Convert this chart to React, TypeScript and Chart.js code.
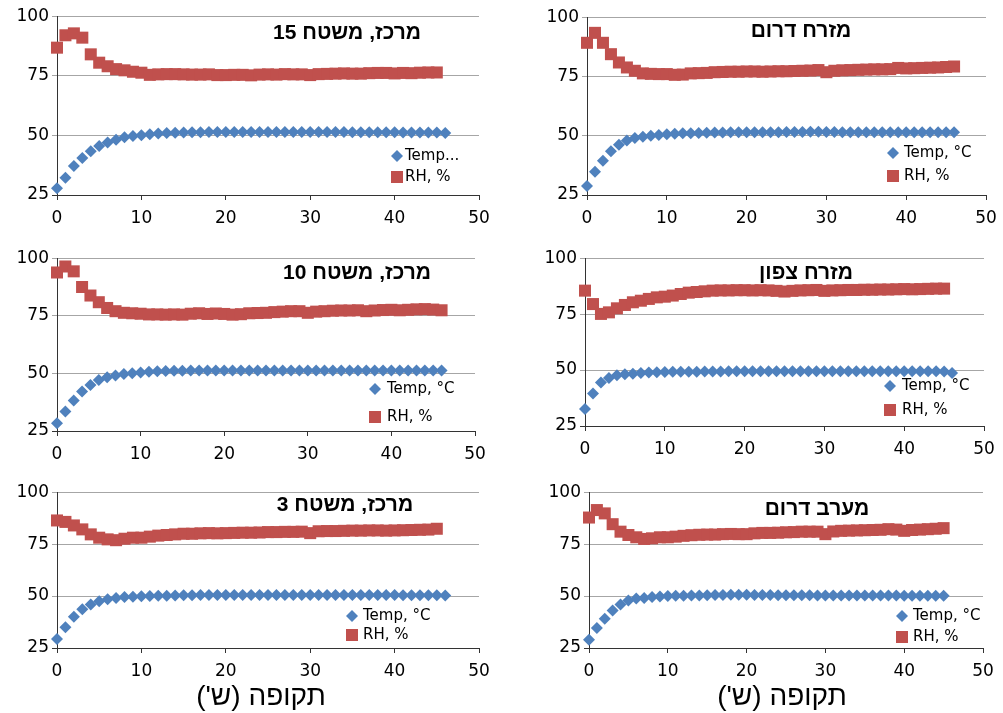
import React, { useEffect, useRef } from 'react';
import { Chart, registerables } from 'chart.js';

Chart.register(...registerables);

// ---------------- DATA ----------------
const hours = [0, 1, 2, 3, 4, 5, 6, 7, 8, 9, 10, 11, 12, 13, 14, 15, 16, 17, 18, 19, 20, 21, 22, 23, 24, 25, 26, 27, 28, 29, 30, 31, 32, 33, 34, 35, 36, 37, 38, 39, 40, 41, 42, 43, 44, 45, 46];
const xTickValues = [0, 10, 20, 30, 40, 50];
const yTickValues = [25, 50, 75, 100];

const tempName = 'Temp, °C';
const tempNameShort = 'Temp...';
const rhName = 'RH, %';
const xAxisTitle = "תקופה (ש')";

const titles = ['מרכז, משטח 15', 'מזרח דרום', 'מרכז, משטח 10', 'מזרח צפון', 'מרכז, משטח 3', 'מערב דרום'];

// מרכז, משטח 15
const temp15 = [27.8, 32.2, 37.2, 40.5, 43.3, 45.6, 47.0, 48.2, 49.2, 49.7, 50.1, 50.5, 50.8, 51.0, 51.1, 51.2, 51.3, 51.3, 51.4, 51.4, 51.4, 51.4, 51.4, 51.4, 51.4, 51.4, 51.4, 51.4, 51.4, 51.4, 51.4, 51.4, 51.4, 51.4, 51.4, 51.3, 51.3, 51.3, 51.3, 51.3, 51.3, 51.2, 51.2, 51.2, 51.2, 51.2, 51.0];
const rh15 = [86.8, 92.0, 92.8, 91.0, 84.0, 80.5, 79.0, 77.8, 77.3, 76.7, 76.3, 75.4, 75.6, 75.7, 75.7, 75.6, 75.5, 75.5, 75.6, 75.3, 75.3, 75.4, 75.4, 75.2, 75.5, 75.6, 75.5, 75.7, 75.6, 75.6, 75.3, 75.7, 75.8, 75.9, 76.0, 75.9, 75.9, 76.1, 76.2, 76.2, 76.0, 76.2, 76.1, 76.3, 76.4, 76.4];

// מזרח דרום
const tempSE = [28.8, 34.8, 39.4, 43.5, 46.2, 48.0, 49.0, 49.6, 50.0, 50.3, 50.6, 50.8, 51.0, 51.1, 51.2, 51.3, 51.4, 51.4, 51.5, 51.5, 51.5, 51.5, 51.5, 51.5, 51.5, 51.6, 51.6, 51.6, 51.7, 51.7, 51.6, 51.6, 51.5, 51.5, 51.5, 51.5, 51.5, 51.5, 51.5, 51.5, 51.5, 51.5, 51.5, 51.5, 51.5, 51.5, 51.5];
const rhSE = [89.2, 93.4, 89.2, 84.4, 80.9, 78.8, 77.4, 76.3, 76.1, 76.0, 76.0, 75.7, 75.8, 76.3, 76.4, 76.5, 76.8, 76.9, 77.0, 77.0, 77.1, 77.1, 77.0, 77.1, 77.2, 77.2, 77.3, 77.4, 77.5, 77.7, 76.8, 77.4, 77.6, 77.7, 77.8, 77.9, 78.0, 78.0, 78.1, 78.6, 78.4, 78.5, 78.6, 78.7, 78.8, 79.0, 79.2];

// מרכז, משטח 10
const temp10 = [28.4, 33.5, 38.2, 42.1, 45.0, 47.1, 48.3, 49.1, 49.7, 50.1, 50.4, 50.7, 50.9, 51.0, 51.1, 51.2, 51.3, 51.3, 51.3, 51.3, 51.3, 51.3, 51.3, 51.3, 51.3, 51.3, 51.3, 51.3, 51.3, 51.3, 51.3, 51.3, 51.3, 51.3, 51.3, 51.3, 51.3, 51.3, 51.3, 51.3, 51.3, 51.3, 51.3, 51.3, 51.3, 51.3, 51.3];
const rh10 = [93.8, 96.4, 94.3, 87.5, 83.8, 80.9, 78.4, 77.0, 76.3, 76.1, 75.9, 75.6, 75.6, 75.5, 75.6, 75.5, 75.9, 76.1, 75.8, 76.0, 75.8, 75.5, 75.7, 76.1, 76.2, 76.3, 76.6, 76.8, 77.0, 77.0, 76.3, 76.8, 77.0, 77.2, 77.3, 77.3, 77.4, 77.0, 77.3, 77.5, 77.6, 77.4, 77.6, 77.8, 77.9, 77.7, 77.4];

// מזרח צפון
const tempNE = [32.6, 39.5, 44.4, 46.5, 47.7, 48.1, 48.4, 48.7, 48.9, 49.0, 49.1, 49.2, 49.2, 49.3, 49.3, 49.4, 49.4, 49.4, 49.5, 49.5, 49.5, 49.5, 49.5, 49.5, 49.5, 49.5, 49.5, 49.5, 49.5, 49.5, 49.5, 49.5, 49.5, 49.5, 49.5, 49.5, 49.5, 49.5, 49.5, 49.5, 49.5, 49.5, 49.5, 49.5, 49.5, 49.4, 48.7];
const rhNE = [85.5, 79.5, 75.1, 75.8, 77.6, 79.1, 80.3, 81.0, 81.8, 82.5, 82.8, 83.3, 84.0, 84.6, 84.9, 85.2, 85.5, 85.6, 85.6, 85.7, 85.7, 85.6, 85.7, 85.6, 85.4, 85.1, 85.4, 85.6, 85.7, 85.8, 85.4, 85.6, 85.7, 85.8, 85.8, 85.9, 85.9, 86.0, 86.0, 86.1, 86.2, 86.1, 86.2, 86.3, 86.4, 86.4];

// מרכז, משטח 3
const temp3 = [29.3, 35.0, 40.1, 43.6, 45.9, 47.5, 48.5, 49.1, 49.6, 49.7, 49.9, 50.0, 50.1, 50.2, 50.3, 50.4, 50.4, 50.5, 50.5, 50.5, 50.5, 50.5, 50.5, 50.5, 50.5, 50.5, 50.5, 50.5, 50.5, 50.5, 50.5, 50.5, 50.5, 50.5, 50.5, 50.5, 50.5, 50.5, 50.5, 50.5, 50.5, 50.4, 50.4, 50.4, 50.4, 50.4, 50.3];
const rh3 = [86.4, 85.7, 84.0, 82.1, 79.7, 78.1, 77.3, 76.9, 77.6, 78.1, 78.1, 78.6, 79.1, 79.4, 79.7, 80.0, 80.0, 80.2, 80.3, 80.2, 80.3, 80.4, 80.5, 80.5, 80.6, 80.8, 80.8, 80.9, 80.9, 81.0, 80.3, 81.2, 81.3, 81.3, 81.4, 81.5, 81.5, 81.6, 81.6, 81.5, 81.6, 81.7, 81.8, 81.9, 82.0, 82.4];

// מערב דרום
const tempSW = [29.0, 34.6, 39.1, 43.1, 46.0, 47.9, 48.8, 49.1, 49.5, 49.8, 50.0, 50.1, 50.2, 50.3, 50.3, 50.4, 50.5, 50.5, 50.6, 50.6, 50.6, 50.5, 50.5, 50.5, 50.4, 50.4, 50.4, 50.4, 50.4, 50.3, 50.3, 50.3, 50.3, 50.3, 50.3, 50.3, 50.3, 50.3, 50.3, 50.3, 50.2, 50.2, 50.2, 50.2, 50.2, 50.2];
const rhSW = [87.8, 91.4, 89.8, 84.6, 81.0, 79.4, 78.3, 77.5, 77.8, 78.3, 78.3, 78.6, 79.0, 79.3, 79.5, 79.6, 79.6, 79.8, 79.9, 79.8, 79.8, 80.2, 80.4, 80.4, 80.5, 80.7, 80.8, 81.0, 81.0, 81.0, 79.8, 81.1, 81.4, 81.5, 81.6, 81.7, 81.8, 81.9, 82.2, 82.0, 81.4, 81.8, 82.0, 82.2, 82.4, 82.7];

// ---------------- LAYOUT / STYLE ----------------
const BLUE = '#4F81BD';
const RED = '#C0504D';
const AXIS = '#333333';
const GRID = '#A6A6A6';
const FONT = '"DejaVu Sans", sans-serif';
const HEB_FONT = '"Liberation Sans", "DejaVu Sans", sans-serif';

type PanelDef = {
  title: string;
  temp: number[];
  rh: number[];
  tempLabel: string;
  area: { l: number; t: number; r: number; b: number };
  titlePos: { x: number; y: number };
  legend: { mx: number; y1: number; y2: number; tx: number };
  axisTitle?: { x: number; y: number };
};

const panels: PanelDef[] = [
  { title: titles[0], temp: temp15, rh: rh15, tempLabel: tempNameShort, area: { l: 57, t: 15, r: 479, b: 195 }, titlePos: { x: 347, y: 33 }, legend: { mx: 397, y1: 156, y2: 177, tx: 405 } },
  { title: titles[1], temp: tempSE, rh: rhSE, tempLabel: tempName, area: { l: 587, t: 16, r: 986, b: 195 }, titlePos: { x: 801, y: 31 }, legend: { mx: 893, y1: 153, y2: 176, tx: 904 } },
  { title: titles[2], temp: temp10, rh: rh10, tempLabel: tempName, area: { l: 57, t: 257, r: 475, b: 431 }, titlePos: { x: 357, y: 273 }, legend: { mx: 375, y1: 389, y2: 417, tx: 387 } },
  { title: titles[3], temp: tempNE, rh: rhNE, tempLabel: tempName, area: { l: 585, t: 257, r: 984, b: 426 }, titlePos: { x: 806, y: 273 }, legend: { mx: 890, y1: 386, y2: 410, tx: 902 } },
  { title: titles[4], temp: temp3, rh: rh3, tempLabel: tempName, area: { l: 57, t: 491, r: 479, b: 648 }, titlePos: { x: 345, y: 505 }, legend: { mx: 352, y1: 616, y2: 635, tx: 363 }, axisTitle: { x: 261, y: 697 } },
  { title: titles[5], temp: tempSW, rh: rhSW, tempLabel: tempName, area: { l: 589, t: 491, r: 983, b: 648 }, titlePos: { x: 817, y: 509 }, legend: { mx: 902, y1: 616, y2: 637, tx: 913 }, axisTitle: { x: 782, y: 697 } },
];

const LEFT_W = 55;
const TOP_PAD = 12;
const RIGHT_PAD = 22;

function Panel({ def }: { def: PanelDef }) {
  const ref = useRef<HTMLCanvasElement | null>(null);
  const { area } = def;
  const bottomH = def.axisTitle ? 65 : 30;
  const cLeft = area.l - LEFT_W;
  const cTop = area.t - TOP_PAD;
  const cW = area.r - area.l + LEFT_W + RIGHT_PAD;
  const cH = area.b - area.t + TOP_PAD + bottomH;

  useEffect(() => {
    if (!ref.current) return;
    const toPts = (ys: number[]) => ys.map((y, i) => ({ x: hours[i], y }));

    const overlay = {
      id: 'overlay',
      afterDraw(chart: any) {
        const ctx = chart.ctx as CanvasRenderingContext2D;
        ctx.save();
        // panel title (Hebrew, bold)
        ctx.fillStyle = '#000';
        ctx.font = `bold 21px ${HEB_FONT}`;
        (ctx as any).direction = 'rtl';
        ctx.textAlign = 'center';
        ctx.textBaseline = 'middle';
        ctx.fillText(def.title, def.titlePos.x - cLeft, def.titlePos.y - cTop);
        // axis title
        if (def.axisTitle) {
          ctx.font = `28px ${HEB_FONT}`;
          ctx.fillText(xAxisTitle, def.axisTitle.x - cLeft, def.axisTitle.y - cTop);
        }
        (ctx as any).direction = 'ltr';
        // legend
        const lg = def.legend;
        const mx = lg.mx - cLeft;
        const y1 = lg.y1 - cTop;
        const y2 = lg.y2 - cTop;
        ctx.fillStyle = BLUE;
        ctx.beginPath();
        ctx.moveTo(mx, y1 - 6);
        ctx.lineTo(mx + 6, y1);
        ctx.lineTo(mx, y1 + 6);
        ctx.lineTo(mx - 6, y1);
        ctx.closePath();
        ctx.fill();
        ctx.fillStyle = RED;
        ctx.fillRect(mx - 6, y2 - 6, 12, 12);
        ctx.fillStyle = '#000';
        ctx.font = `15px ${FONT}`;
        ctx.textAlign = 'left';
        ctx.textBaseline = 'middle';
        ctx.fillText(def.tempLabel, lg.tx - cLeft, y1);
        ctx.fillText(rhName, lg.tx - cLeft, y2);
        ctx.restore();
      },
    };

    const chart = new Chart(ref.current, {
      type: 'scatter',
      data: {
        datasets: [
          {
            label: def.tempLabel,
            data: toPts(def.temp),
            pointStyle: 'rectRot',
            pointRadius: 6,
            pointBackgroundColor: BLUE,
            pointBorderColor: BLUE,
            pointBorderWidth: 0,
            showLine: false,
            clip: false as any,
          },
          {
            label: rhName,
            data: toPts(def.rh),
            pointStyle: 'rect',
            pointRadius: 8.5,
            pointBackgroundColor: RED,
            pointBorderColor: RED,
            pointBorderWidth: 0,
            showLine: false,
            clip: false as any,
          },
        ],
      },
      options: {
        responsive: false,
        animation: false,
        events: [],
        layout: { padding: { top: TOP_PAD, right: RIGHT_PAD, left: 0, bottom: 0 } },
        plugins: { legend: { display: false }, tooltip: { enabled: false }, title: { display: false } },
        scales: {
          x: {
            type: 'linear',
            min: 0,
            max: 50,
            afterBuildTicks: (s: any) => {
              s.ticks = xTickValues.map((v) => ({ value: v }));
            },
            afterFit: (s: any) => {
              s.height = bottomH;
            },
            grid: { drawOnChartArea: false, drawTicks: true, tickLength: 5, color: AXIS, tickColor: AXIS },
            border: { display: true, color: AXIS, width: 1 },
            ticks: { color: '#000', font: { family: FONT, size: 17 }, padding: 8, maxRotation: 0 },
          },
          y: {
            type: 'linear',
            min: 25,
            max: 100,
            afterBuildTicks: (s: any) => {
              s.ticks = yTickValues.map((v) => ({ value: v }));
            },
            afterFit: (s: any) => {
              s.width = LEFT_W;
            },
            grid: {
              drawTicks: true,
              tickLength: 5,
              color: (c: any) => (c.tick && c.tick.value === 25 ? AXIS : GRID),
            },
            border: { display: true, color: AXIS, width: 1 },
            ticks: { color: '#000', font: { family: FONT, size: 17 }, padding: 3 },
          },
        },
      },
      plugins: [overlay],
    } as any);
    return () => chart.destroy();
  }, []);

  return (
    <canvas
      ref={ref}
      width={cW}
      height={cH}
      style={{ position: 'absolute', left: cLeft, top: cTop, width: cW, height: cH }}
    />
  );
}

export default function App() {
  return (
    <div style={{ position: 'absolute', left: 0, top: 0, width: 1003, height: 713, background: '#fff', overflow: 'hidden' }}>
      {panels.map((p, i) => (
        <Panel key={i} def={p} />
      ))}
    </div>
  );
}
